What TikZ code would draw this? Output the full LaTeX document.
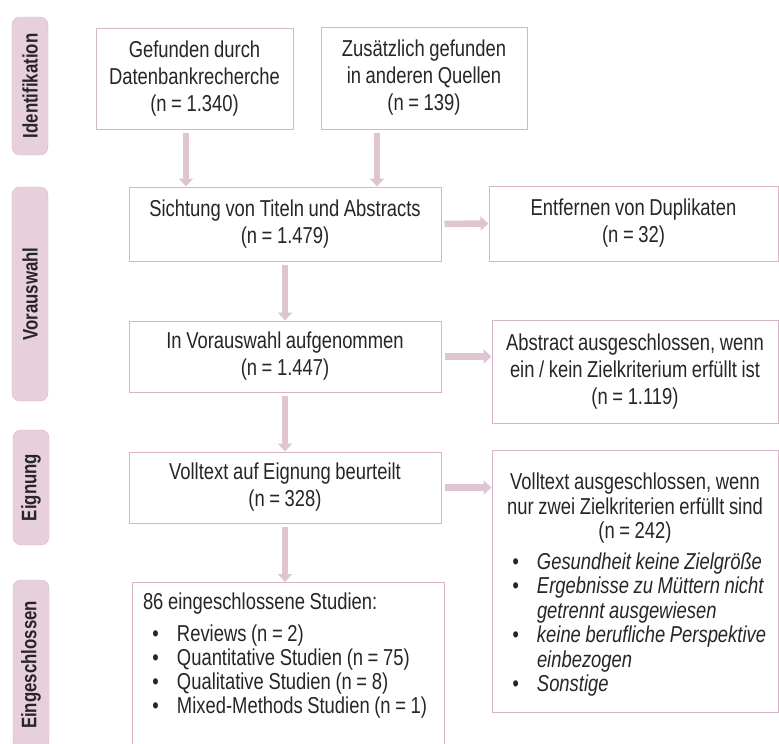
\documentclass[tikz,border=0pt]{standalone}
\usepackage{fontspec}
\setmainfont[FakeStretch=0.8,WordSpace={0.9,0,0}]{Liberation Sans}
\usepackage{tikz}
\usepackage{xcolor}
\usetikzlibrary{arrows.meta}
\definecolor{boxpink}{RGB}{217,180,199}
\definecolor{labelfill}{RGB}{231,207,219}
\definecolor{labelline}{RGB}{214,184,199}
\definecolor{arrowpink}{RGB}{223,196,210}
\definecolor{textgray}{RGB}{38,38,38}
\tikzset{
    flow-box/.style = {draw=boxpink, fill=white, line width=1pt, rectangle, inner sep=0pt, align=center, text=textgray, font=\fontsize{23}{27}\selectfont},
    phase-label/.style = {draw=labelline, fill=labelfill, rectangle, rounded corners=8pt, rotate=90, minimum height=36pt, text=textgray, font=\bfseries\fontsize{21}{21}\selectfont},
    flow-arrow/.style = {draw=arrowpink, line width=6.5pt, shorten <=3pt, -{Triangle[width=14pt,length=8pt]}},
}
\newcommand{\flowitem}[1]{\par\noindent\hangindent=45pt\hspace*{23.5pt}\makebox[0pt]{\textbullet}\hspace*{21.5pt}#1}
\newcommand{\midline}[1]{\par\noindent\makebox[\linewidth]{#1}}

\begin{document}
\begin{tikzpicture}[x=1pt,y=-1pt]
\clip (0,0) rectangle (779,744);
% phases
\node[phase-label, minimum width=138pt] (ident) at (30,86) {Identifikation};
\node[phase-label, minimum width=214pt] (voraus) at (30,294) {Vorauswahl};
\node[phase-label, minimum width=115pt] (eignung) at (31,487.5) {Eignung};
\node[phase-label, minimum width=170pt] (einge) at (31,665) {Eingeschlossen};
% boxes
\node[flow-box, minimum width=197pt, minimum height=101pt] (db) at (194.5,78.5) {Gefunden durch\\ Datenbankrecherche\\ (n = 1.340)};
\node[flow-box, minimum width=206pt, minimum height=102pt] (other) at (424,78) {Zusätzlich gefunden\\ in anderen Quellen\\ (n = 139)};
\node[flow-box, minimum width=312pt, minimum height=74pt] (screen) at (285,224) {Sichtung von Titeln und Abstracts\\ (n = 1.479)};
\node[flow-box, minimum width=289pt, minimum height=75pt] (dupl) at (633.5,223.5) {Entfernen von Duplikaten\\ (n = 32)};
\node[flow-box, minimum width=312pt, minimum height=71pt] (pre) at (285,356.5) {In Vorauswahl aufgenommen\\ (n = 1.447)};
\node[flow-box, minimum width=286pt, minimum height=103pt] (absex) at (635,371.5) {Abstract ausgeschlossen, wenn\\ ein / kein Zielkriterium erfüllt ist\\ (n = 1.119)};
\node[flow-box, minimum width=312pt, minimum height=71pt] (full) at (285,487.5) {Volltext auf Eignung beurteilt\\ (n = 328)};
\node[flow-box, minimum width=286pt, minimum height=262pt, text width=286pt, align=flush left, font=\fontsize{23}{24.5}\selectfont] (fullex) at (635,581) {\midline{Volltext ausgeschlossen, wenn}
\midline{nur zwei Zielkriterien erfüllt sind}
\midline{(n = 242)}\par\vspace{6pt}
\itshape
\flowitem{Gesundheit keine Zielgröße}
\flowitem{Ergebnisse zu Müttern nicht\hfill\break getrennt ausgewiesen}
\flowitem{keine berufliche Perspektive\hfill\break einbezogen}
\flowitem{Sonstige}};
\node[flow-box, anchor=north, text width=312pt, align=flush left, inner ysep=10pt, font=\fontsize{23}{24}\selectfont] (incl) at (288,582) {\hspace*{11pt}86 eingeschlossene Studien:\par\vspace{8pt}
\flowitem{Reviews (n = 2)}
\flowitem{Quantitative Studien (n = 75)}
\flowitem{Qualitative Studien (n = 8)}
\flowitem{Mixed-Methods Studien (n = 1)}\par\vspace{80pt}};
% arrows
\draw[flow-arrow] ([xshift=-8.5pt]db.south) -- ([xshift=-8.5pt]db.south |- screen.north);
\draw[flow-arrow] ([xshift=-47pt]other.south) -- ([xshift=-47pt]other.south |- screen.north);
\draw[flow-arrow] (screen.east) -- (dupl.west);
\draw[flow-arrow] (screen.south) -- (pre.north);
\draw[flow-arrow] (pre.east) -- (pre.east -| absex.west);
\draw[flow-arrow] (pre.south) -- (full.north);
\draw[flow-arrow] (full.east) -- (full.east -| fullex.west);
\draw[flow-arrow] (full.south) -- (full.south |- incl.north);
\end{tikzpicture}
\end{document}
